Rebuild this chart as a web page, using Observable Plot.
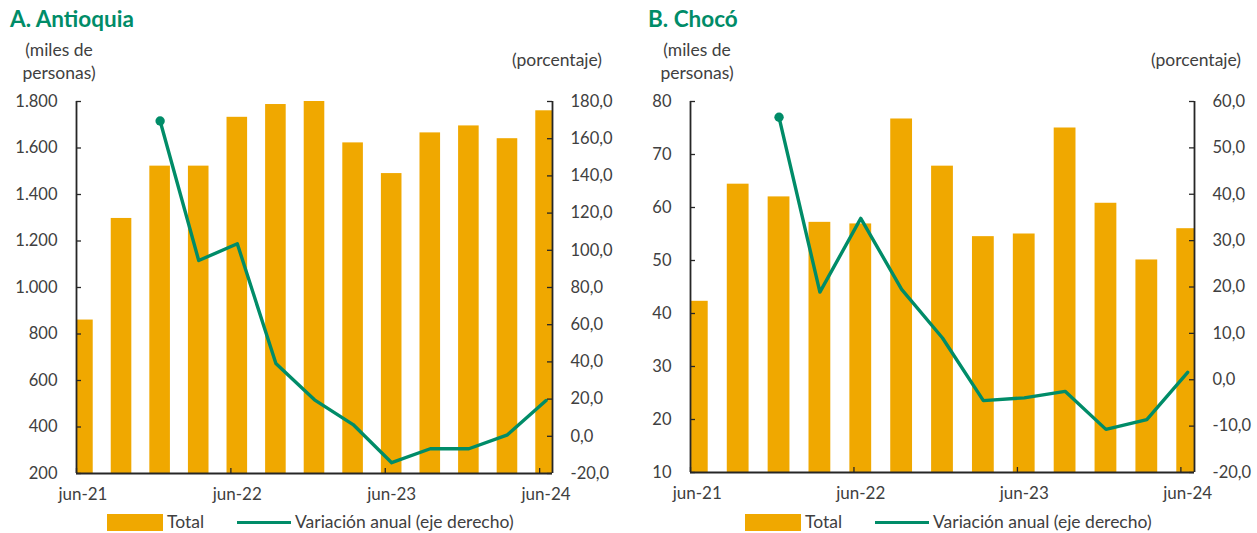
<!DOCTYPE html>
<html>
<head>
<meta charset="utf-8">
<script src="https://cdn.jsdelivr.net/npm/d3@7"></script>
<script src="https://cdn.jsdelivr.net/npm/@observablehq/plot@0.6"></script>
<style>
  html, body { margin: 0; padding: 0; background: #fff; }
  body { width: 1257px; height: 533px; position: relative; overflow: hidden; font-family: Lato, "Liberation Sans", sans-serif; color: #404040; }
  .abs { position: absolute; white-space: nowrap; }
  .title { font-weight: bold; font-size: 22.5px; color: #008C68; }
  .unit { font-size: 17.5px; line-height: 23px; text-align: center; }
  .leg { font-size: 17.5px; line-height: 20px; }
  .plot { position: absolute; top: 90px; }
</style>
</head>
<body>
<div id="app"></div>
<script>
// ---------- data ----------
const quarters = ["jun-21","sep-21","dic-21","mar-22","jun-22","sep-22","dic-22","mar-23","jun-23","sep-23","dic-23","mar-24","jun-24"];
const xTickLabels = ["jun-21","jun-22","jun-23","jun-24"];
const antioquiaTotal = [860, 1297, 1522, 1522, 1732, 1787, 1805, 1622, 1490, 1665, 1695, 1640, 1760];
const antioquiaVar   = [null, null, 169.5, 94.5, 103.5, 39.1, 19.6, 6.3, -14.2, -6.7, -6.7, 0.8, 19.2];
const chocoTotal = [42.3, 64.4, 62.0, 57.2, 56.9, 76.7, 67.8, 54.5, 55.0, 75.0, 60.8, 50.1, 56.0];
const chocoVar   = [null, null, 56.6, 18.9, 34.8, 19.5, 9.0, -4.5, -3.9, -2.5, -10.7, -8.6, 1.6];
const ticksLeftA = [200, 400, 600, 800, 1000, 1200, 1400, 1600, 1800];
const ticksRightA = [-20, 0, 20, 40, 60, 80, 100, 120, 140, 160, 180];
const ticksLeftB = [10, 20, 30, 40, 50, 60, 70, 80];
const ticksRightB = [-20, -10, 0, 10, 20, 30, 40, 50, 60];

// ---------- styling ----------
const barColor = "#F0A800";
const lineColor = "#008C68";
const axisColor = "#262626";
const textColor = "#404040";
const fontFamily = "Lato, 'Liberation Sans', sans-serif";

// months since jun-21 (start of month); each quarter's bar sits mid-month
const monthOf = i => 3 * i + 0.5;
const xDomain = [0, 37];
const xTickMonths = xTickLabels.map((_, k) => 12 * k);
const xLabelMonths = xTickLabels.map((_, k) => 12 * k + 0.5);
const labelOf = m => xTickLabels[Math.round((m - 0.5) / 12)];

const fmtThousands = d => d3.format(",")(d).replace(/,/g, ".");
const fmtDec = d => d3.format(".1f")(d).replace(".", ",").replace("−", "-");

function panel({left, width, mL, mR, mB, total, variation, yL, yR, ticksL, ticksR, fmtL, barHalf}) {
  const H = 440, mT = 11;
  const fw = width - mL - mR, fh = H - mT - mB;
  const rows = quarters.map((q, i) => ({q, m: monthOf(i), total: total[i], v: variation[i]}));
  const common = {
    width, height: H, marginLeft: mL, marginRight: mR, marginTop: mT, marginBottom: mB,
    x: {domain: xDomain, axis: null},
    style: {fontFamily, fontSize: "16.5px", color: textColor, background: "transparent", overflow: "visible"}
  };
  const bars = Plot.plot({
    ...common,
    y: {domain: yL, axis: null},
    marks: [
      Plot.rect(rows, {x1: d => d.m - barHalf, x2: d => d.m + barHalf, y1: yL[0], y2: "total", fill: barColor, clip: true}),
      Plot.axisY(ticksL, {anchor: "left", label: null, tickSize: 0, tickPadding: 19, tickFormat: fmtL, fill: textColor}),
      Plot.tickY(ticksL, {y: d => d, stroke: axisColor, strokeWidth: 1.3, insetRight: fw - 5}),
      Plot.tickX(xTickMonths, {x: d => d, stroke: axisColor, strokeWidth: 1.3, insetTop: fh - 5}),
      Plot.axisX(xLabelMonths, {anchor: "bottom", label: null, tickSize: 0, tickPadding: 14, tickFormat: labelOf, fill: textColor, fontSize: 17}),
      Plot.ruleX([xDomain[0]], {stroke: axisColor, strokeWidth: 1.8}),
      Plot.ruleY([yL[0]], {stroke: axisColor, strokeWidth: 2})
    ]
  });
  const lineRows = rows.filter(d => d.v != null);
  const lines = Plot.plot({
    ...common,
    y: {domain: yR, axis: null},
    marks: [
      Plot.line(lineRows, {x: "m", y: "v", stroke: lineColor, strokeWidth: 3.4, strokeLinejoin: "round"}),
      Plot.dot(lineRows.slice(0, 1), {x: "m", y: "v", r: 4.7, fill: lineColor}),
      Plot.axisY(ticksR, {anchor: "right", label: null, tickSize: 0, tickPadding: 18, tickFormat: fmtDec, fill: textColor}),
      Plot.tickY(ticksR, {y: d => d, stroke: axisColor, strokeWidth: 1.3, insetLeft: fw - 5}),
      Plot.ruleX([xDomain[1]], {stroke: axisColor, strokeWidth: 1.8})
    ]
  });
  for (const svg of [bars, lines]) {
    svg.classList.add("plot");
    svg.style.left = left + "px";
    document.body.appendChild(svg);
  }
}

panel({left: 0, width: 628, mL: 76, mR: 76, mB: 57, total: antioquiaTotal, variation: antioquiaVar,
  yL: [200, 1800], yR: [-20, 180], ticksL: ticksLeftA, ticksR: ticksRightA, fmtL: fmtThousands, barHalf: 0.8});
panel({left: 629, width: 628, mL: 61, mR: 63, mB: 58, total: chocoTotal, variation: chocoVar,
  yL: [10, 80], yR: [-20, 60], ticksL: ticksLeftB, ticksR: ticksRightB, fmtL: d => String(d), barHalf: 0.8});

// ---------- texts & legends ----------
function addDiv(cls, html, styles) {
  const d = document.createElement("div");
  d.className = "abs " + cls;
  d.innerHTML = html;
  Object.assign(d.style, styles);
  document.body.appendChild(d);
}
addDiv("title", "A. Antioquia", {left: "10px", top: "5px"});
addDiv("title", "B. Chocó", {left: "648px", top: "5px"});
addDiv("unit", "(miles de<br>personas)", {left: "14px", top: "38px", width: "90px"});
addDiv("unit", "(miles de<br>personas)", {left: "652px", top: "38px", width: "90px"});
addDiv("unit", "(porcentaje)", {left: "512px", top: "48px"});
addDiv("unit", "(porcentaje)", {left: "1151px", top: "48px"});

function legend(x) {
  addDiv("leg", "", {left: x + "px", top: "514px", width: "56px", height: "17px", background: barColor});
  addDiv("leg", "Total", {left: (x + 60) + "px", top: "512px"});
  addDiv("leg", "", {left: (x + 130) + "px", top: "521px", width: "54px", height: "3px", background: lineColor});
  addDiv("leg", "Variación anual (eje derecho)", {left: (x + 188) + "px", top: "512px"});
}
legend(107);
legend(745);
</script>
</body>
</html>
